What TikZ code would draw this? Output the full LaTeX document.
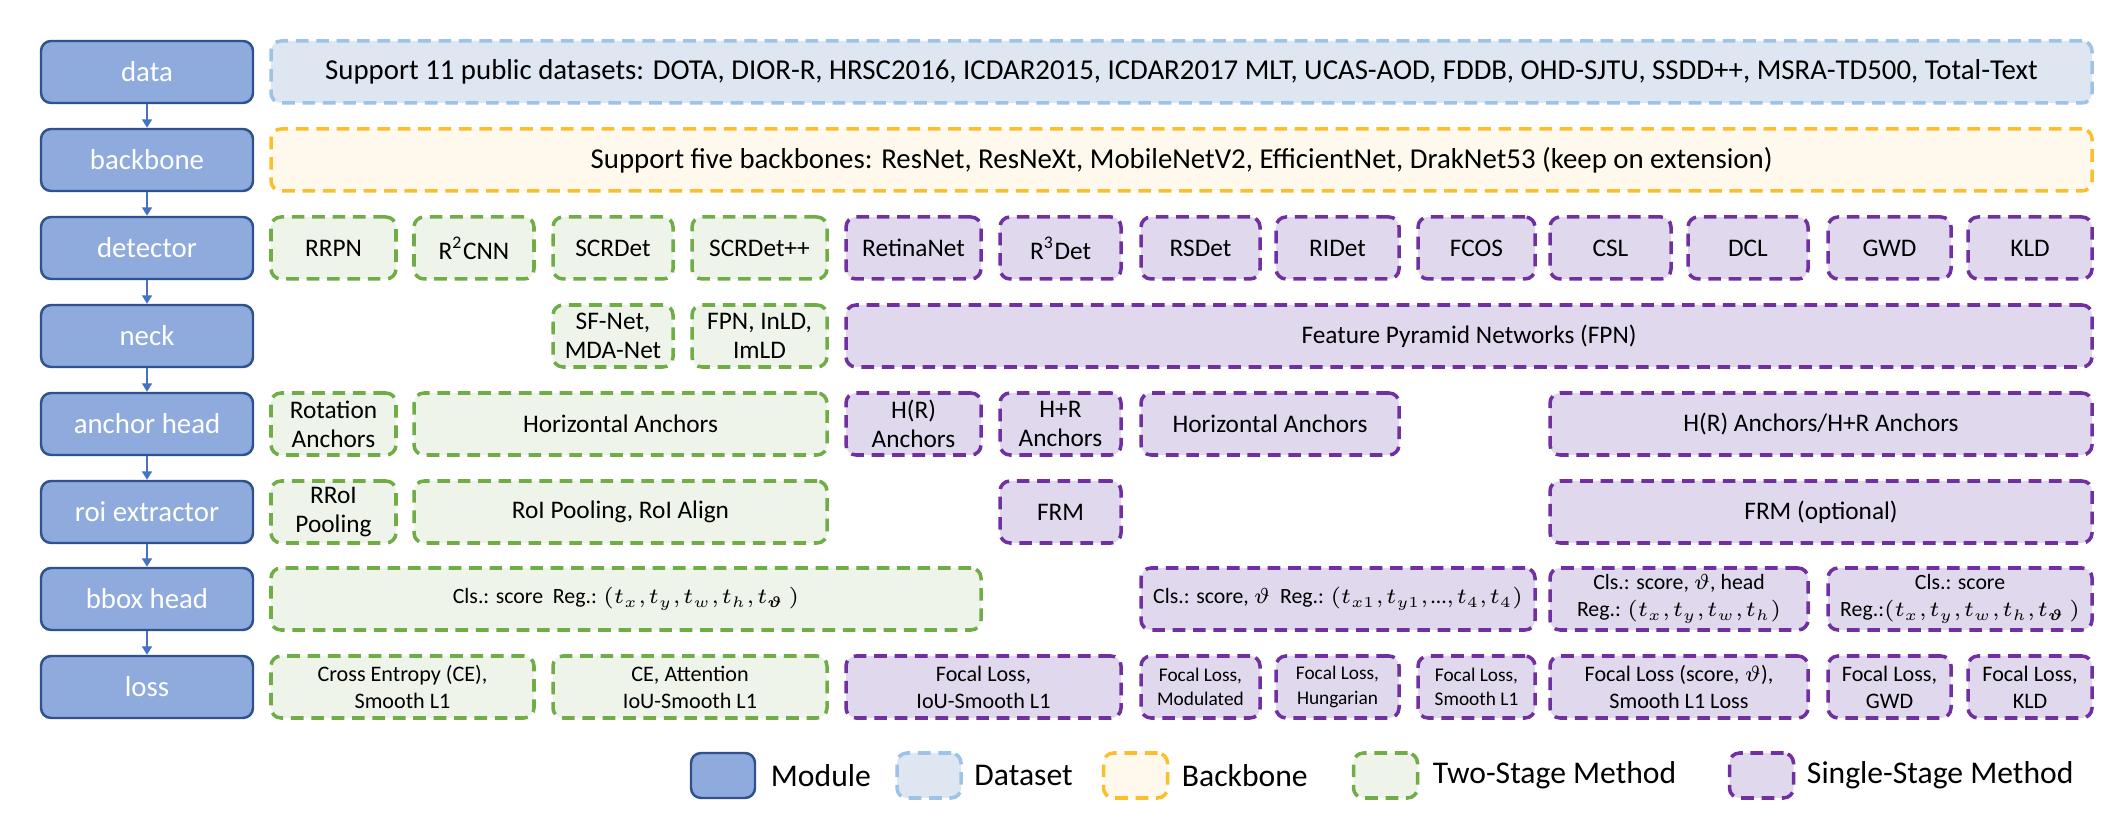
\RequirePackage{fix-cm}
\documentclass[tikz,border=0pt]{standalone}
\usepackage{amsmath}
\usepackage{fontspec}
\setmainfont{Carlito}
\usetikzlibrary{positioning,arrows.meta}
\definecolor{modfill}{RGB}{143,170,220}
\definecolor{modline}{RGB}{47,82,143}
\definecolor{dsfill}{RGB}{222,230,242}
\definecolor{dsline}{RGB}{157,195,230}
\definecolor{bbfill}{RGB}{254,249,236}
\definecolor{bbline}{RGB}{251,191,45}
\definecolor{twofill}{RGB}{238,244,233}
\definecolor{twoline}{RGB}{112,173,71}
\definecolor{onefill}{RGB}{224,216,236}
\definecolor{oneline}{RGB}{112,48,160}
\definecolor{flowblue}{RGB}{68,114,196}
\newcommand{\tightmu}{\thinmuskip=1.5mu\relax}

\begin{document}
\begin{tikzpicture}[x=0.1mm, y=-0.1mm,
  module/.style={draw=modline, line width=0.7pt, fill=modfill, rounded corners=1mm, text=white,
    minimum width=21.2mm, minimum height=6.2mm, font=\fontsize{8.2}{10}\selectfont},
  cell/.style={rounded corners=1mm, line width=1pt, dash pattern=on 3.6pt off 2.2pt,
    minimum height=6.2mm, inner sep=0pt, align=center, font=\fontsize{7.2}{8.2}\selectfont},
  dset/.style={cell, draw=dsline, fill=dsfill},
  bbone/.style={cell, draw=bbline, fill=bbfill},
  twost/.style={cell, draw=twoline, fill=twofill},
  onest/.style={cell, draw=oneline, fill=onefill},
  widefont/.style={font=\fontsize{8.2}{10}\selectfont},
  headfont/.style={font=\fontsize{6.2}{7.8}\selectfont\tightmu},
  lossfont/.style={font=\fontsize{6.3}{7.7}\selectfont},
  tinyfont/.style={font=\fontsize{5.5}{7}\selectfont},
  flow/.style={draw=flowblue, line width=0.6pt, -{Triangle[length=2.4pt,width=2.8pt]}},
  lgtext/.style={font=\fontsize{9}{11}\selectfont, inner sep=0pt}
]
\path[use as bounding box, fill=white] (0,0) rectangle (2108,820);

\foreach \n/\t/\y in {data/data/72, backbone/backbone/160, det/detector/248, neck/neck/336,
    anc/anchor head/424, roi/roi extractor/512, bbox/bbox head/599, loss/loss/687}{
  \node[module] (\n) at (147,\y) {\t};
}
\foreach \a/\b in {data/backbone, backbone/det, det/neck, neck/anc, anc/roi, roi/bbox, bbox/loss}{
  \draw[flow] (\a) -- (\b);
}

\node[dset, widefont, minimum width=182.1mm] (sets) at (1181.5,72) {Support 11 public datasets: DOTA, DIOR-R, HRSC2016, ICDAR2015, ICDAR2017 MLT, UCAS-AOD, FDDB, OHD-SJTU, SSDD++, MSRA-TD500, Total-Text};
\node[bbone, widefont, minimum width=182.1mm] (nets) at (1181.5,160) {Support five backbones: ResNet, ResNeXt, MobileNetV2, EfficientNet, DrakNet53 (keep on extension)};

% detector
\foreach \n/\x/\w/\t in {rrpn/333.5/12.5/RRPN, rtwocnn/474/12/{R\textsuperscript{2}CNN},
    scrdet/613/12/SCRDet, scrdetpp/759.5/13.5/SCRDet++}{
  \node[twost, minimum width=\w mm] (\n) at (\x,248) {\t};
}
\foreach \n/\x/\w/\t in {retina/913.5/13.5/RetinaNet, rthreedet/1060.5/12.1/{R\textsuperscript{3}Det},
    rsdet/1200.5/11.9/RSDet, ridet/1337.5/12.3/RIDet, fcos/1476.5/11.7/FCOS, csl/1610.5/12.1/CSL,
    dcl/1748/12/DCL, gwd/1889.5/12.3/GWD, kld/2030/12.4/KLD}{
  \node[onest, minimum width=\w mm] (\n) at (\x,248) {\t};
}

% neck
\node[twost, minimum width=12mm] (sfnet) at (613,336) {SF-Net,\\MDA-Net};
\node[twost, minimum width=13.5mm] (inld) at (759.5,336) {FPN, InLD,\\ImLD};
\node[onest, minimum width=124.6mm] (fpn) at (1469,336) {Feature Pyramid Networks (FPN)};

% anchor head
\node[twost, minimum width=12.5mm] (rotanc) at (333.5,424) {Rotation\\Anchors};
\node[twost, minimum width=41.3mm] (horanc) at (620.5,424) {Horizontal Anchors};
\node[onest, minimum width=13.5mm] (hranc) at (913.5,424) {H(R)\\Anchors};
\node[onest, minimum width=12.1mm] (hpranc) at (1060.5,424) {H+R\\Anchors};
\node[onest, minimum width=25.8mm] (horancs) at (1270,424) {Horizontal Anchors};
\node[onest, minimum width=54.2mm] (mixanc) at (1821,424) {H(R) Anchors/H+R Anchors};

% roi extractor
\node[twost, minimum width=12.5mm] (rroi) at (333.5,512) {RRoI\\Pooling};
\node[twost, minimum width=41.3mm] (roipool) at (620.5,512) {RoI Pooling, RoI Align};
\node[onest, minimum width=12.1mm] (frm) at (1060.5,512) {FRM};
\node[onest, minimum width=54.2mm] (frmopt) at (1821,512) {FRM (optional)};

% bbox head
\node[twost, headfont, minimum width=71mm] (bboxtwo) at (626,599) {Cls.: score~~Reg.: $(t_x, t_y, t_w, t_h, t_{\boldsymbol{\vartheta}}\ )$};
\node[onest, headfont, minimum width=39.4mm] (bboxa) at (1338,599) {Cls.: score, $\vartheta$~~Reg.: $(t_{x1}, t_{y1}, \mbox{\ldots}, t_4, t_4)$};
\node[onest, headfont, minimum width=25.8mm] (bboxb) at (1679,599) {Cls.: score, $\vartheta$, head\\Reg.: $(t_x, t_y, t_w, t_h)$};
\node[onest, headfont, minimum width=26.4mm] (bboxc) at (1960,599) {Cls.: score\\Reg.:$(t_x, t_y, t_w, t_h, t_{\boldsymbol{\vartheta}}\ )$};

% loss
\node[twost, lossfont, minimum width=26.3mm] (lce) at (402.5,687) {Cross Entropy (CE),\\Smooth L1};
\node[twost, lossfont, minimum width=27.4mm] (lceatt) at (690,687) {CE, Attention\\IoU-Smooth L1};
\node[onest, lossfont, minimum width=27.5mm] (lfociou) at (983.5,687) {Focal Loss,\\IoU-Smooth L1};
\node[onest, tinyfont, minimum width=11.9mm] (lmod) at (1200.5,687) {Focal Loss,\\Modulated};
\node[onest, tinyfont, minimum width=12.3mm] (lhun) at (1337.5,687) {Focal Loss,\\Hungarian};
\node[onest, tinyfont, minimum width=11.7mm] (lsmooth) at (1476.5,687) {Focal Loss,\\Smooth L1};
\node[onest, lossfont, minimum width=25.8mm] (lfocth) at (1679,687) {Focal Loss (score, $\vartheta$),\\Smooth L1 Loss};
\node[onest, lossfont, minimum width=12.3mm] (lgwd) at (1889.5,687) {Focal Loss,\\GWD};
\node[onest, lossfont, minimum width=12.4mm] (lkld) at (2030,687) {Focal Loss,\\KLD};

% legend
\node[module, minimum width=6.4mm, minimum height=4.5mm] (lgmod) at (723,775.5) {};
\node[lgtext, right=1.4mm of lgmod] (lgmodt) {Module};
\node[dset, minimum width=6.4mm, minimum height=4.5mm] (lgset) at (929,775.5) {};
\node[lgtext, right=1.1mm of lgset] (lgsett) {Dataset};
\node[bbone, minimum width=6.4mm, minimum height=4.5mm] (lgbb) at (1135.5,775.5) {};
\node[lgtext, right=1.2mm of lgbb] (lgbbt) {Backbone};
\node[twost, minimum width=6.4mm, minimum height=4.5mm] (lgtwo) at (1385.5,775.5) {};
\node[lgtext, right=1.3mm of lgtwo] (lgtwot) {Two-Stage Method};
\node[onest, minimum width=6.4mm, minimum height=4.5mm] (lgone) at (1761.5,775.5) {};
\node[lgtext, right=1.1mm of lgone] (lgonet) {Single-Stage Method};

\end{tikzpicture}
\end{document}
